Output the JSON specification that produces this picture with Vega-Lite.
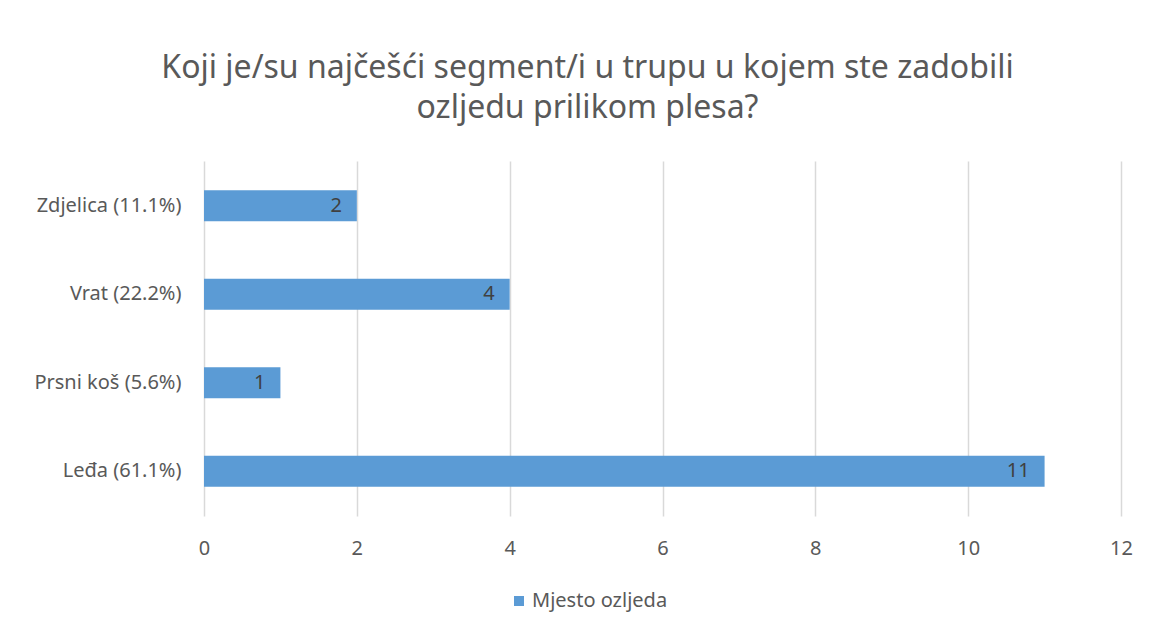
{
  "$schema": "https://vega.github.io/schema/vega-lite/v6.json",
  "autosize": "none",
  "width": 917,
  "height": 355,
  "padding": {"left": 204, "top": 161, "right": 28, "bottom": 114},
  "background": "white",
  "title": {
    "text": ["Koji je/su najčešći segment/i u trupu u kojem ste zadobili", "ozljedu prilikom plesa?"],
    "anchor": "middle",
    "dx": -75,
    "offset": 36,
    "fontSize": 32,
    "font": "Noto Sans",
    "fontWeight": "normal",
    "color": "#595959",
    "lineHeight": 40
  },
  "data": {
    "values": [
      {"kategorija": "Zdjelica (11.1%)", "broj": 2},
      {"kategorija": "Vrat (22.2%)", "broj": 4},
      {"kategorija": "Prsni koš (5.6%)", "broj": 1},
      {"kategorija": "Leđa (61.1%)", "broj": 11}
    ]
  },
  "encoding": {
    "y": {
      "field": "kategorija",
      "type": "nominal",
      "sort": null,
      "scale": {"paddingInner": 0.65, "paddingOuter": 0.33},
      "axis": {"title": null, "ticks": false, "domain": false, "labelPadding": 23, "labelFontSize": 20, "labelFont": "Noto Sans", "labelColor": "#595959"}
    },
    "x": {
      "field": "broj",
      "type": "quantitative",
      "scale": {"domain": [0, 12]},
      "axis": {"title": null, "ticks": false, "domain": false, "values": [0,2,4,6,8,10,12], "labelOverlap": false, "labelFlush": false, "labelPadding": 22, "labelFontSize": 20, "labelFont": "Noto Sans", "labelColor": "#595959", "gridColor": "#d9d9d9", "gridWidth": 1.5}
    }
  },
  "layer": [
    {
      "mark": {"type": "bar", "color": "#5B9BD5"},
      "encoding": {
        "color": {
          "datum": "Mjesto ozljeda",
          "scale": {"range": ["#5B9BD5"]},
          "legend": {"title": null, "orient": "none", "legendX": 305, "legendY": 430, "symbolType": "square", "symbolSize": 100, "labelFontSize": 20, "labelFont": "Noto Sans", "labelColor": "#595959", "symbolOpacity": 1, "labelOffset": 3}
        }
      }
    },
    {
      "mark": {"type": "text", "align": "right", "dx": -15, "fontSize": 20, "font": "Noto Sans", "color": "#404040"},
      "encoding": {"text": {"field": "broj", "type": "quantitative"}}
    }
  ],
  "config": {"view": {"stroke": null}}
}
